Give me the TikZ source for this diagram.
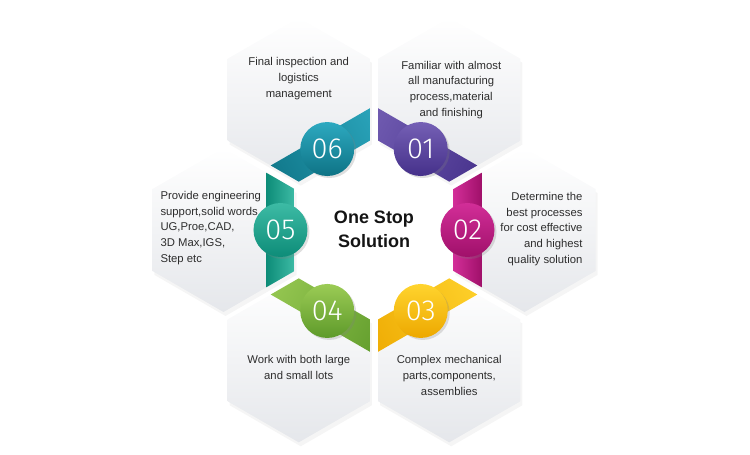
\documentclass[tikz,border=0pt]{standalone}
\usepackage{fontspec}
\setmainfont{Liberation Sans}
\newfontfamily\digitfont{Fira Sans Light}
\usetikzlibrary{shadows, calc}
\definecolor{inkgray}{RGB}{45, 45, 45}
\definecolor{titleink}{RGB}{20, 20, 20}
\definecolor{hexgray}{RGB}{229, 231, 235}
\definecolor{violetdark}{RGB}{69, 48, 138}
\definecolor{violetlight}{RGB}{117, 96, 181}
\definecolor{magentadark}{RGB}{160, 16, 106}
\definecolor{magentalight}{RGB}{210, 46, 152}
\definecolor{amberdark}{RGB}{237, 168, 0}
\definecolor{amberlight}{RGB}{255, 212, 46}
\definecolor{limedark}{RGB}{94, 154, 42}
\definecolor{limelight}{RGB}{155, 203, 85}
\definecolor{tealdark}{RGB}{13, 140, 120}
\definecolor{teallight}{RGB}{61, 187, 165}
\definecolor{petroldark}{RGB}{14, 115, 133}
\definecolor{petrollight}{RGB}{45, 169, 192}

\newcommand{\hexpath}{(30:82) -- (90:82) -- (150:82) -- (210:82) -- (270:82) -- (330:82) -- cycle}

\tikzset{
    hexcell/.style={top color=white, bottom color=hexgray,
        drop shadow={opacity=0.08, shadow xshift=2pt, shadow yshift=-4pt}},
    numdisc/.style={shading angle=-135,
        drop shadow={opacity=0.25, shadow xshift=2pt, shadow yshift=-2pt}},
    numtext/.style={font=\digitfont\fontsize{29}{29}\selectfont, text=white},
    infotext/.style={font=\fontsize{11.3}{15.7}\selectfont, text=inkgray, align=center},
}

\begin{document}
\begin{tikzpicture}[x=1pt, y=1pt]

        \useasboundingbox (-374,-225) rectangle (376,230);

        % Cell centres
        \coordinate (h01) at (60:150.5);
        \coordinate (h02) at (0:150.5);
        \coordinate (h03) at (-60:150.5);
        \coordinate (h04) at (-120:150.5);
        \coordinate (h05) at (180:150.5);
        \coordinate (h06) at (120:150.5);

        % Cells
        \shade[hexcell, shift={(h01)}] \hexpath;
        \shade[hexcell, shift={(h02)}] \hexpath;
        \shade[hexcell, shift={(h03)}] \hexpath;
        \shade[hexcell, shift={(h04)}] \hexpath;
        \shade[hexcell, shift={(h05)}] \hexpath;
        \shade[hexcell, shift={(h06)}] \hexpath;

        % Band 01
        \begin{scope}[shift={(h01)}, rotate=240]
            \clip \hexpath;
            \shade[top color=violetdark, bottom color=violetlight, shading angle=240] (43,-90) rectangle (71,90);
            \coordinate (c01) at (57,0);
        \end{scope}

        % Band 02
        \begin{scope}[shift={(h02)}, rotate=180]
            \clip \hexpath;
            \shade[left color=magentalight, right color=magentadark] (43,-90) rectangle (71,90);
            \coordinate (c02) at (57,0);
        \end{scope}

        % Band 03
        \begin{scope}[shift={(h03)}, rotate=120]
            \clip \hexpath;
            \shade[top color=amberdark, bottom color=amberlight, shading angle=120] (43,-90) rectangle (71,90);
            \coordinate (c03) at (57,0);
        \end{scope}

        % Band 04
        \begin{scope}[shift={(h04)}, rotate=60]
            \clip \hexpath;
            \shade[top color=limelight, bottom color=limedark, shading angle=60] (43,-90) rectangle (71,90);
            \coordinate (c04) at (57,0);
        \end{scope}

        % Band 05
        \begin{scope}[shift={(h05)}, rotate=0]
            \clip \hexpath;
            \shade[left color=tealdark, right color=teallight] (43,-90) rectangle (71,90);
            \coordinate (c05) at (57,0);
        \end{scope}

        % Band 06
        \begin{scope}[shift={(h06)}, rotate=300]
            \clip \hexpath;
            \shade[top color=petrollight, bottom color=petroldark, shading angle=300] (43,-90) rectangle (71,90);
            \coordinate (c06) at (57,0);
        \end{scope}

        % Number discs
        \shade[numdisc, top color=violetlight, bottom color=violetdark] (c01) circle (27);
        \shade[numdisc, top color=magentalight, bottom color=magentadark] (c02) circle (27);
        \shade[numdisc, top color=amberlight, bottom color=amberdark] (c03) circle (27);
        \shade[numdisc, top color=limelight, bottom color=limedark] (c04) circle (27);
        \shade[numdisc, top color=teallight, bottom color=tealdark] (c05) circle (27);
        \shade[numdisc, top color=petrollight, bottom color=petroldark] (c06) circle (27);

        \node[numtext] (n01) at (c01) {01};
        \node[numtext] (n02) at (c02) {02};
        \node[numtext] (n03) at (c03) {03};
        \node[numtext] (n04) at (c04) {04};
        \node[numtext] (n05) at (c05) {05};
        \node[numtext] (n06) at (c06) {06};

        % Texts
        \node[infotext] (t01) at ($(h01)+(2,10)$)
            {Familiar with almost\\all manufacturing\\process,material\\and finishing};
        \node[infotext, align=right, anchor=east] (t02) at (212,1)
            {Determine the\\best processes\\for cost effective\\and highest\\quality solution};
        \node[infotext] (t03) at ($(h03)+(0,-15)$)
            {Complex mechanical\\parts,components,\\assemblies};
        \node[infotext] (t04) at ($(h04)+(0,-7)$)
            {Work with both large\\and small lots};
        \node[infotext, align=left, anchor=west] (t05) at (-217,2)
            {Provide engineering\\support,solid words\\UG,Proe,CAD,\\3D Max,IGS,\\Step etc};
        \node[infotext] (t06) at ($(h06)+(0,21)$)
            {Final inspection and\\logistics\\management};

        % Centre
        \node[font=\fontsize{18}{24}\selectfont\bfseries, text=titleink, align=center] (title) at (0,1)
            {One Stop\\Solution};

    \end{tikzpicture}
\end{document}
